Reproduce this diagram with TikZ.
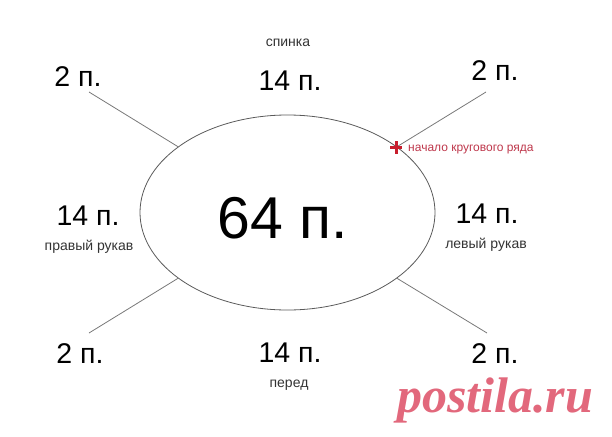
\documentclass[tikz,border=0pt]{standalone}
\usepackage{fontspec}
\setmainfont{Liberation Sans}
\newfontfamily\wmfont{Liberation Serif}
\usetikzlibrary{shapes.geometric}

\definecolor{linegray}{RGB}{120,120,120}
\definecolor{ovalgray}{RGB}{90,90,90}
\definecolor{markred}{RGB}{200,30,45}
\definecolor{notered}{RGB}{190,55,75}
\definecolor{wmpink}{RGB}{226,104,124}

\begin{document}
\begin{tikzpicture}[x=1pt, y=-1pt,
    big/.style={font=\fontsize{28.5}{30}\selectfont, anchor=base, inner sep=0pt},
    part/.style={font=\fontsize{14}{16}\selectfont, text=black!80, anchor=base, inner sep=0pt},
    spoke/.style={linegray, line width=0.8pt}]
    \useasboundingbox (0,0) rectangle (612,436);

    % the round
    \node[ellipse, draw=ovalgray, line width=0.8pt, inner sep=0pt, outer sep=0pt,
          minimum width=295pt, minimum height=195pt] (oval) at (287.5,212.5) {};
    \node[font=\fontsize{59}{60}\selectfont, anchor=base, inner sep=0pt] (total) at (283,238) {64 п.};

    % raglan lines
    \coordinate (tl) at (89,92);
    \coordinate (tr) at (486,92);
    \coordinate (bl) at (89,333);
    \coordinate (br) at (487,333);
    \draw[spoke] (oval.149) -- (tl);
    \draw[spoke] (oval.31) -- (tr);
    \draw[spoke] (oval.211) -- (bl);
    \draw[spoke] (oval.329) -- (br);

    % back
    \node[part] (back) at (288,47) {спинка};
    \node[big] (backnum) at (290,90) {14 п.};
    % sleeves
    \node[big] (rightnum) at (88,225) {14 п.};
    \node[part] (rightsleeve) at (89,250) {правый рукав};
    \node[big] (leftnum) at (487,223) {14 п.};
    \node[part] (leftsleeve) at (486,248) {левый рукав};
    % front
    \node[big] (frontnum) at (290,362) {14 п.};
    \node[part] (front) at (289,387) {перед};
    % raglan stitches
    \node[big] (raglantl) at (78,86) {2 п.};
    \node[big] (raglantr) at (495,80) {2 п.};
    \node[big] (raglanbl) at (80,363) {2 п.};
    \node[big] (raglanbr) at (495,363) {2 п.};

    % start of the round
    \coordinate (start) at (396,147);
    \draw[markred, line width=3pt] ([xshift=-6pt]start) -- ([xshift=6pt]start)
        ([yshift=-6.5pt]start) -- ([yshift=6.5pt]start);
    \node[notered, font=\fontsize{12}{14}\selectfont, anchor=base west, inner sep=0pt]
        (startnote) at (408,151) {начало кругового ряда};

    \node[wmpink, font=\wmfont\bfseries\itshape\fontsize{50}{52}\selectfont, anchor=base, inner sep=0pt]
        (mark) at (495,412) {postila.ru};
\end{tikzpicture}
\end{document}
